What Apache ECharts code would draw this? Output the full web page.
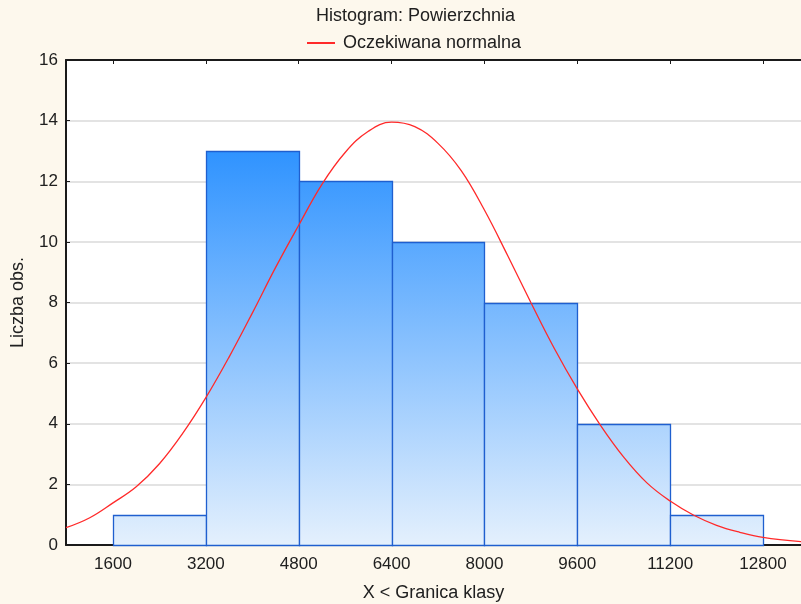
<!DOCTYPE html>
<html>
<head>
<meta charset="utf-8">
<script src="https://cdn.jsdelivr.net/npm/echarts@6/dist/echarts.min.js"></script>
<style>
  html, body { margin: 0; padding: 0; background: #fdf8ed; }
  #chart { width: 801px; height: 604px; }
</style>
</head>
<body>
<div id="chart"></div>
<script>
// histogram bins (upper class bounds) and counts
var binEdges = [1600, 3200, 4800, 6400, 8000, 9600, 11200, 12800];
var counts = [1, 13, 12, 10, 8, 4, 1];
var xTicks = [1600, 3200, 4800, 6400, 8000, 9600, 11200, 12800];

// expected normal curve
var curveX = [790, 1200, 1600, 2000, 2400, 2800, 3200, 3600, 4000, 4400, 4800, 5200, 5600, 6000, 6400, 6800,
              7200, 7600, 8000, 8400, 8800, 9200, 9600, 10000, 10400, 10800, 11200, 11600, 12000, 12400, 12800, 13455];
var curveY = [0.57, 0.90, 1.39, 1.92, 2.68, 3.68, 4.86, 6.20, 7.65, 9.15, 10.55, 11.90, 12.95, 13.65, 13.95, 13.80,
              13.25, 12.35, 11.05, 9.55, 8.00, 6.50, 5.15, 3.95, 2.90, 2.05, 1.45, 0.99, 0.65, 0.42, 0.25, 0.11];

var barData = [];
for (var i = 0; i < counts.length; i++) {
    barData.push([binEdges[i], binEdges[i + 1], counts[i]]);
}
var curveData = [];
for (var j = 0; j < curveX.length; j++) {
    curveData.push([curveX[j], curveY[j]]);
}

var textColor = '#202020';
var font = 'Liberation Sans';

var chart = echarts.init(document.getElementById('chart'));

option = {
    backgroundColor: '#fdf8ed',
    animation: false,
    textStyle: {fontFamily: font},
    title: {
        text: 'Histogram: Powierzchnia',
        left: 311,
        top: 2,
        textStyle: {fontFamily: font, fontSize: 18, fontWeight: 'normal', color: textColor}
    },
    legend: {
        left: 302,
        top: 29,
        itemWidth: 28,
        itemHeight: 2,
        textStyle: {fontFamily: font, fontSize: 18, color: textColor, padding: [0, 0, 0, 3]},
        data: [{name: 'Oczekiwana normalna', icon: 'rect'}]
    },
    grid: {
        left: 66,
        right: 0,
        top: 60,
        bottom: 59,
        outerBoundsMode: 'none',
        show: true,
        backgroundColor: '#ffffff',
        borderWidth: 0
    },
    xAxis: [
        {
            type: 'value',
            min: 790,
            max: 13455,
            name: 'X < Granica klasy',
            nameLocation: 'middle',
            nameGap: 39,
            nameTextStyle: {fontFamily: font, fontSize: 18, color: textColor},
            axisLine: {show: true, onZero: false, lineStyle: {color: '#1a1a1a', width: 2}},
            axisTick: {show: true, inside: true, length: 4, customValues: xTicks, lineStyle: {color: '#1a1a1a'}},
            axisLabel: {
                customValues: xTicks, margin: 11, fontFamily: font, fontSize: 17, color: textColor,
                formatter: function (v) { return String(v); }
            },
            splitLine: {show: false}
        },
        {
            type: 'value',
            position: 'top',
            min: 790,
            max: 13455,
            axisLine: {show: true, onZero: false, lineStyle: {color: '#1a1a1a', width: 2}},
            axisTick: {show: true, inside: true, length: 4, customValues: xTicks, lineStyle: {color: '#1a1a1a'}},
            axisLabel: {show: false},
            splitLine: {show: false}
        }
    ],
    yAxis: [
        {
            type: 'value',
            min: 0,
            max: 16,
            interval: 2,
            name: 'Liczba obs.',
            nameLocation: 'middle',
            nameGap: 39,
            nameTextStyle: {fontFamily: font, fontSize: 18, color: textColor},
            axisLine: {show: true, lineStyle: {color: '#1a1a1a', width: 2}},
            axisTick: {show: true, inside: true, length: 4, lineStyle: {color: '#1a1a1a'}},
            axisLabel: {margin: 8, fontFamily: font, fontSize: 17, color: textColor},
            splitLine: {show: true, lineStyle: {color: '#e3e3e3', width: 2}}
        }
    ],
    series: [
        {
            name: 'Histogram',
            type: 'custom',
            xAxisIndex: 0,
            yAxisIndex: 0,
            encode: {x: [0, 1], y: 2},
            data: barData,
            renderItem: function (params, api) {
                var base = api.coord([api.value(0), 0]);
                var top = api.coord([api.value(1), api.value(2)]);
                var gTop = api.coord([api.value(0), 13]);
                var grad = new echarts.graphic.LinearGradient(0, gTop[1], 0, base[1], [
                    {offset: 0, color: '#2f93ff'},
                    {offset: 1, color: '#e4f0fd'}
                ], true);
                return {
                    type: 'rect',
                    shape: {
                        x: Math.round(base[0]) + 0.5,
                        y: Math.round(top[1]) + 0.5,
                        width: Math.round(top[0]) - Math.round(base[0]),
                        height: Math.round(base[1]) - Math.round(top[1])
                    },
                    style: {fill: grad, stroke: '#1f5fcf', lineWidth: 1.3}
                };
            },
            z: 2
        },
        {
            name: 'Oczekiwana normalna',
            type: 'line',
            xAxisIndex: 0,
            yAxisIndex: 0,
            data: curveData,
            symbol: 'none',
            smooth: 0.4,
            lineStyle: {color: '#ff2a2a', width: 1.3},
            itemStyle: {color: '#ff2a2a'},
            z: 3
        }
    ]
};

chart.setOption(option);
</script>
</body>
</html>
